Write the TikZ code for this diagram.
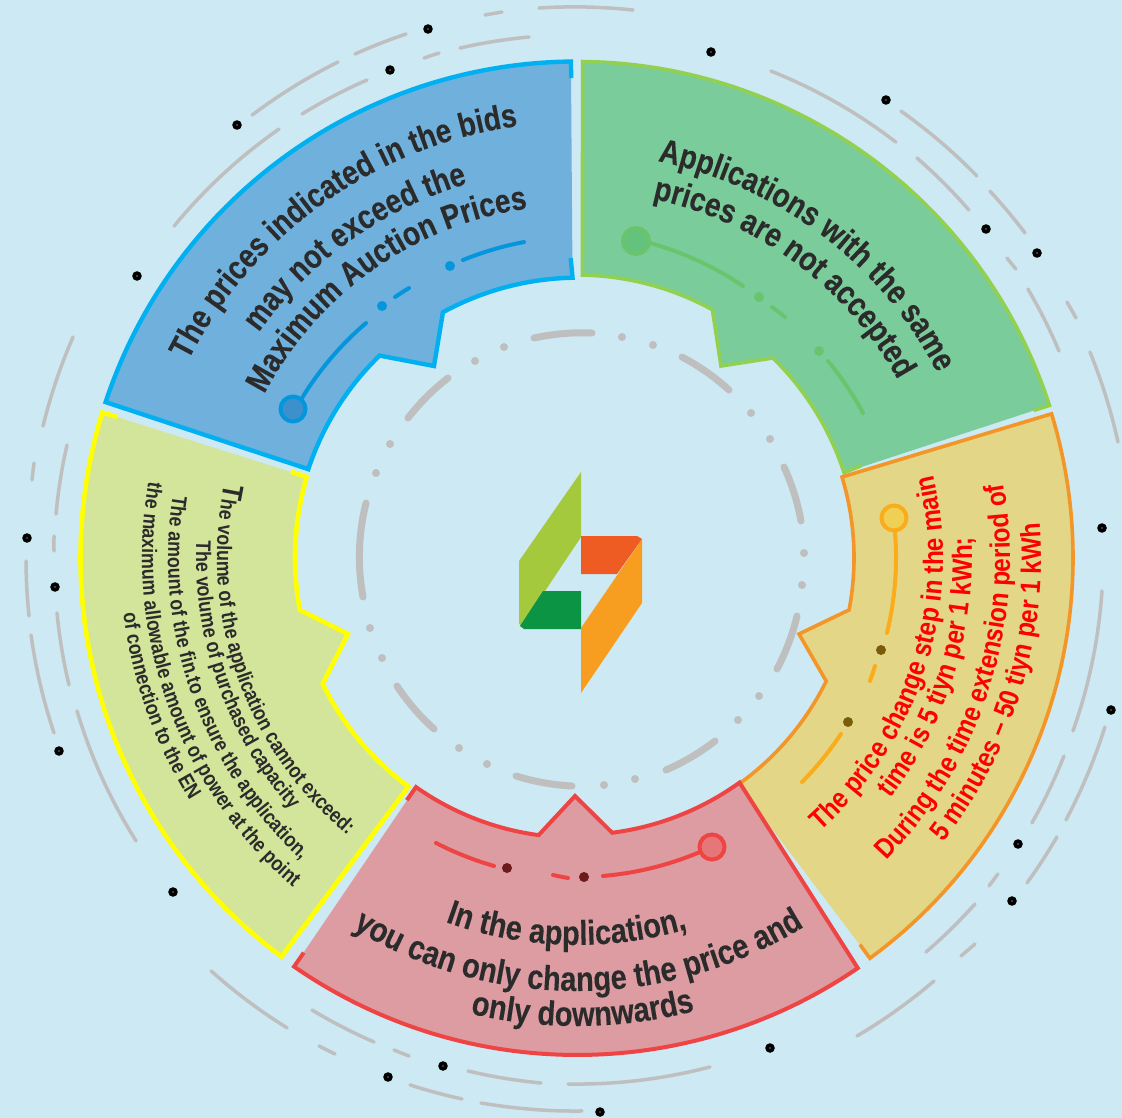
\documentclass[tikz,border=0pt]{standalone}
\usepackage{fontspec}
\usetikzlibrary{decorations.text}
\newfontfamily\fA[FakeStretch=0.84,FakeBold=0.15]{Liberation Sans}
\newfontfamily\fR[FakeStretch=0.87]{Liberation Sans}
\newfontfamily\fY[FakeStretch=0.85]{Liberation Sans}
\definecolor{bgc}{HTML}{CDE9F4}
\definecolor{gry}{HTML}{BFBFBF}
\definecolor{tx}{HTML}{2B2B2B}
\definecolor{bluF}{HTML}{70B0DC}\definecolor{bluS}{HTML}{00B0F0}\definecolor{bluL}{HTML}{0396DD}
\definecolor{grnF}{HTML}{7BCC9B}\definecolor{grnS}{HTML}{92D050}\definecolor{grnL}{HTML}{6AC46E}
\definecolor{orgF}{HTML}{E3D686}\definecolor{orgS}{HTML}{F39627}\definecolor{orgL}{HTML}{FBAC1A}
\definecolor{redF}{HTML}{DC9CA2}\definecolor{redS}{HTML}{EF4444}
\definecolor{yelF}{HTML}{D3E59B}\definecolor{yelS}{HTML}{FFFF00}
\definecolor{lgA}{HTML}{A4C93C}\definecolor{lgB}{HTML}{0B9444}\definecolor{lgC}{HTML}{EE5C24}\definecolor{lgD}{HTML}{F79E20}
\definecolor{bluB}{HTML}{3C90CC}\definecolor{grnB}{HTML}{63C27B}\definecolor{orgB}{HTML}{F0CF55}\definecolor{redB}{HTML}{E5767A}
\definecolor{orgD}{HTML}{7A5C0A}\definecolor{redD}{HTML}{6D1A1A}
\def\cx{577}\def\cy{558}
% arc-like segment between two pixel points, about the centre \cx,\cy
\newcommand\seg[5][]{%
  \pgfmathsetmacro\aA{atan2((#3)-\cy,(#2)-\cx)}%
  \pgfmathsetmacro\aB{atan2((#5)-\cy,(#4)-\cx)}%
  \pgfmathsetmacro\rA{veclen((#2)-\cx,(#3)-\cy)}%
  \pgfmathsetmacro\rB{veclen((#4)-\cx,(#5)-\cy)}%
  \pgfmathsetmacro\dd{mod(\aB-\aA+540,360)-180}%
  \draw[#1] plot[domain=0:1,samples=13,smooth,variable=\u]
    ({\cx+(\rA+(\rB-\rA)*\u)*cos(\aA+\dd*\u)},{\cy+(\rA+(\rB-\rA)*\u)*sin(\aA+\dd*\u)});}
\newcommand\blackdot[2]{\fill[black] (#1,#2) circle[radius=4.8];\fill[white] (#1,#2) circle[radius=0.6];}
\newcommand\grydot[2]{\fill[gry] (#1,#2) circle[radius=4];}
\newcommand\sector[6]{\fill[#1] #5 -- cycle;
  \draw[#2,line width=#3,line join=miter] #4 -- #5 -- #6;}
% one line of curved text: radius, start angle, end angle (clockwise from east, screen), text
\newcommand\tline[4]{%
  \pgfmathsetmacro\ta{-((#2)-((#3)-(#2))*0.12)}%
  \pgfmathsetmacro\tb{-((#3)+((#3)-(#2))*0.12)}%
  \path[decorate,decoration={text along path,text align={center},text={#4}}]
    (\ta:#1) arc[start angle=\ta,end angle=\tb,radius=#1];}
\newcommand\fBl{\fA\bfseries\fontsize{33.5}{37}\selectfont\color{tx}}
\newcommand\fBr{\fA\bfseries\fontsize{34.5}{38}\selectfont\color{tx}}
\newcommand\fRd{\fR\bfseries\fontsize{28}{31}\selectfont\color{red}}
\newcommand\fYl{\fY\bfseries\fontsize{21}{24}\selectfont\color{tx}}
\newcommand\fYb{\fY\bfseries\fontsize{29}{32}\selectfont\color{tx}}
\tikzset{gseg/.style={gry,line width=3.5,line cap=round},
  rseg/.style={gry,line width=7,line cap=round},
  bl/.style={bluL,line width=4,line cap=round},
  gl/.style={grnL,line width=4,line cap=round},
  ol/.style={orgL,line width=4,line cap=round},
  rl/.style={redS,line width=4,line cap=round}}
\begin{document}
\begin{tikzpicture}[x=1pt,y=1pt]
\path[use as bounding box,fill=bgc] (0,0) rectangle (1122,-1118);
\begin{scope}[yscale=-1]
% outer grey arcs
\seg[gseg]{174}{226}{279}{129}
\seg[gseg]{252}{115}{338}{62}
\seg[gseg]{302}{114}{367}{80}
\seg[gseg]{355}{54}{406}{34}
\seg[gseg]{424}{58}{439}{53}
\seg[gseg]{460}{48}{529}{37}
\seg[gseg]{485}{15}{502}{12}
\seg[gseg]{539}{8}{633}{10}
\seg[gseg]{771}{71}{896}{142}
\seg[gseg]{901}{111}{977}{176}
\seg[gseg]{917}{158}{969}{210}
\seg[gseg]{990}{191}{1025}{233}
\seg[gseg]{1007}{258}{1016}{269}
\seg[gseg]{1028}{289}{1059}{351}
\seg[gseg]{1067}{302}{1076}{318}
\seg[gseg]{1090}{352}{1118}{442}
\seg[gseg]{73}{337}{43}{426}
\seg[gseg]{34}{463}{32}{480}
\seg[gseg]{67}{445}{56}{514}
\seg[gseg]{54}{536}{54}{551}
\seg[gseg]{26}{561}{29}{616}
\seg[gseg]{31}{635}{54}{733}
\seg[gseg]{57}{613}{69}{685}
\seg[gseg]{77}{711}{136}{841}
\seg[gseg]{211}{971}{287}{1028}
\seg[gseg]{312}{1010}{374}{1042}
\seg[gseg]{319}{1046}{335}{1054}
\seg[gseg]{394}{1050}{409}{1056}
\seg[gseg]{468}{1071}{541}{1083}
\seg[gseg]{568}{1084}{710}{1067}
\seg[gseg]{410}{1085}{462}{1099}
\seg[gseg]{481}{1103}{582}{1111}
\seg[gseg]{1102}{591}{1073}{731}
\seg[gseg]{1105}{727}{1066}{820}
\seg[gseg]{1064}{756}{1032}{823}
\seg[gseg]{1057}{837}{1027}{883}
\seg[gseg]{998}{874}{989}{886}
\seg[gseg]{975}{904}{926}{952}
\seg[gseg]{975}{944}{961}{956}
\seg[gseg]{934}{981}{857}{1036}
% black dots
\blackdot{428}{29}\blackdot{390}{70}\blackdot{237}{125}\blackdot{137}{276}
\blackdot{711}{52}\blackdot{886}{100}\blackdot{986}{229}\blackdot{1037}{253}
\blackdot{27}{538}\blackdot{55}{587}\blackdot{59}{751}\blackdot{173}{892}
\blackdot{443}{1066}\blackdot{388}{1077}\blackdot{600}{1112}\blackdot{770}{1048}
\blackdot{1102}{528}\blackdot{1111}{710}\blackdot{1018}{844}\blackdot{1012}{901}
% inner ring
\begingroup\def\cx{581}
\seg[rseg]{534}{338}{592}{333}
\seg[rseg]{682}{357}{729}{390}
\seg[rseg]{784}{467}{801}{521}
\seg[rseg]{797}{616}{777}{669}
\seg[rseg]{715}{741}{666}{770}
\seg[rseg]{572}{786}{516}{776}
\seg[rseg]{434}{729}{397}{686}
\seg[rseg]{363}{597}{366}{503}
\seg[rseg]{408}{418}{448}{378}
\endgroup
\grydot{504}{347}\grydot{475}{361}\grydot{622}{337}\grydot{653}{345}
\grydot{751}{413}\grydot{770}{439}\grydot{804}{553}\grydot{802}{585}
\grydot{759}{696}\grydot{738}{720}\grydot{635}{779}\grydot{604}{785}
\grydot{487}{764}\grydot{459}{748}\grydot{382}{658}\grydot{370}{628}
\grydot{376}{473}\grydot{390}{444}
% logo
\fill[fill=lgA] (581,472) -- (519,561) -- (519,623) -- (521,627) -- (581,537) -- cycle;
\fill[fill=lgB] (520,626) -- (543,591) -- (581,591) -- (581,629) -- (524,629) -- cycle;
\fill[fill=lgC] (581,536) -- (637,536) -- (642,539) -- (617,574) -- (581,574) -- cycle;
\fill[fill=lgD] (642,539) -- (642,603) -- (581,693) -- (581,628) -- cycle;
% sectors
\begin{scope}[shift={(577,558)}]
\sector{bluF}{bluS}{4.4}{(269.3:480)}
  {(269.3:496.5) arc[start angle=269.3,end angle=198.3,radius=496.5] -- (198.3:283)
   arc[start angle=198.3,end angle=225.9,radius=281] -- (-143,-192) -- (241.4:280)
   arc[start angle=241.4,end angle=268.8,radius=283]}{(268.8:300)}
\sector{grnF}{grnS}{3.6}{(342.1:480)}
  {(342.1:496.5) arc[start angle=342.1,end angle=270.65,radius=496.5] -- (271.1:283)
   arc[start angle=271.1,end angle=298.8,radius=281] -- (144,-192) -- (314.4:280)
   arc[start angle=314.4,end angle=342,radius=283]}{(342:299)}
\sector{orgF}{orgS}{3.6}{(54.5:295)}
  {(54.5:278) arc[start angle=54.5,end angle=26.3,radius=278] -- (222,76) -- (10.8:277)
   arc[start angle=10.8,end angle=-16.9,radius=278] -- (-16.9:496)
   arc[start angle=-16.9,end angle=53.8,radius=496]}{(53.8:479)}
\sector{redF}{redS}{4}{(125.1:296)}
  {(125.1:280) arc[start angle=125.1,end angle=97.7,radius=278] -- (-2,238) -- (82.7:277)
   arc[start angle=82.7,end angle=54.3,radius=279] -- (55.6:497)
   arc[start angle=55.6,end angle=124.7,radius=497]}{(124.7:480)}
\sector{yelF}{yelS}{4.6}{(197.05:481)}
  {(197.05:496.5) arc[start angle=197.05,end angle=126.5,radius=496] -- (126.4:284)
   arc[start angle=126.4,end angle=153.9,radius=282] -- (-229,76) -- (169.4:282)
   arc[start angle=169.4,end angle=196.6,radius=283]}{(196.8:299)}
\end{scope}
% blue bubbles
\seg[bl]{302}{398}{366}{323}
\seg[bl]{395}{297}{409}{288}
\seg[bl]{463}{260}{524}{242}
\fill[bluL] (382,306) circle[radius=5];
\fill[bluL] (450,266) circle[radius=5];
\draw[bluL,line width=4,fill=bluB] (293,409) circle[radius=12.5];
% green bubbles
\seg[gl]{650}{243}{743}{286}
\seg[gl]{772}{307}{785}{317}
\seg[gl]{828}{361}{863}{413}
\fill[grnL] (759,297) circle[radius=5];
\fill[grnL] (819,351) circle[radius=5];
\draw[grnL,line width=4,fill=grnB] (636,241) circle[radius=13];
% orange bubbles
\seg[ol]{895}{532}{887}{633}
\seg[ol]{875}{666}{870}{681}
\seg[ol]{841}{734}{802}{782}
\fill[orgD] (881,650) circle[radius=5];
\fill[orgD] (848,722) circle[radius=5];
\draw[orgL,line width=4,fill=orgB] (894,518) circle[radius=12.5];
% red bubbles
\seg[rl]{700}{852}{603}{876}
\seg[rl]{568}{878}{553}{875}
\seg[rl]{494}{866}{436}{843}
\fill[redD] (584,877) circle[radius=5];
\fill[redD] (507,868) circle[radius=5];
\draw[redS,line width=4,fill=redB] (712,847) circle[radius=12.5];
\end{scope}
% texts
\begin{scope}[shift={(577,-558)}]
\tline{436}{207.1}{262}{|\fBl|The prices indicated in the bids}
\tline{390}{216}{253}{|\fBl|may not exceed the}
\tline{353}{207.8}{261.8}{|\fBl|Maximum Auction Prices}
\tline{405}{282.3}{332}{|\fBl|Applications with the same}
\tline{367}{282.6}{330.2}{|\fBl|prices are not accepted}
\tline{366}{48}{-12.8}{|\fRd|The price change step in the main}
\tline{395}{37}{-2.6}{|\fRd|time is 5 tiyn per 1 kWh;}
\tline{433}{44}{-9.6}{|\fRd|During the time extension period of}
\tline{464}{37.4}{-3.9}{|\fRd|5 minutes – 50 tiyn per 1 kWh}
\tline{387}{109.3}{74}{|\fBr|In the application,}
\tline{433}{121}{58.6}{|\fBr|you can only change the price and}
\tline{468}{102.8}{75.8}{|\fBr|only downwards}
\tline{360}{191.6}{129.9}{|\fYb|T|\fYl|he volume of the application cannot exceed:}
\tline{381}{182.4}{138.9}{|\fYl|The volume of purchased capacity}
\tline{409}{188.3}{133}{|\fYl|The amount of the fin.to ensure the application,}
\tline{435}{189.7}{131.2}{|\fYl|the maximum allowable amount of power at the point}
\tline{457}{172.9}{148}{|\fYl|of connection to the EN}
\end{scope}
\end{tikzpicture}
\end{document}
